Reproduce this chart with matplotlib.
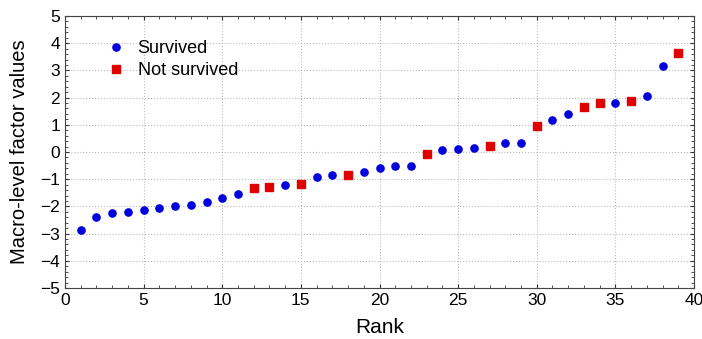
import matplotlib
matplotlib.use("Agg")
import matplotlib.pyplot as plt
from matplotlib.ticker import MultipleLocator

plt.rcParams['font.family'] = ['Liberation Sans', 'DejaVu Sans']

rank = list(range(1, 40))
values = [-2.87, -2.39, -2.26, -2.21, -2.13, -2.05, -1.97, -1.94, -1.85, -1.69,
          -1.56, -1.33, -1.30, -1.23, -1.18, -0.92, -0.85, -0.84, -0.74, -0.58,
          -0.53, -0.50, -0.06, 0.07, 0.11, 0.14, 0.21, 0.34, 0.34, 0.95,
          1.16, 1.39, 1.65, 1.81, 1.80, 1.88, 2.05, 3.15, 3.64]
not_survived_ranks = [12, 13, 15, 18, 23, 27, 30, 33, 34, 36, 39]

surv_x = [r for r in rank if r not in not_survived_ranks]
surv_y = [v for r, v in zip(rank, values) if r not in not_survived_ranks]
ns_x = [r for r in rank if r in not_survived_ranks]
ns_y = [v for r, v in zip(rank, values) if r in not_survived_ranks]

fig = plt.figure(figsize=(7.02, 3.39), dpi=100)
ax = fig.add_axes([65/702, 1-288/339, (694-65)/702, (288-16)/339])

ax.plot(surv_x, surv_y, 'o', color='#0000dd', markersize=5.2, label='Survived', zorder=3)
ax.plot(ns_x, ns_y, 's', color='#e00000', markersize=5.6, label='Not survived', zorder=3)

ax.set_xlim(0, 40)
ax.set_ylim(-5, 5)
ax.xaxis.set_major_locator(MultipleLocator(5))
ax.xaxis.set_minor_locator(MultipleLocator(1))
ax.yaxis.set_major_locator(MultipleLocator(1))
ax.yaxis.set_minor_locator(MultipleLocator(0.2))
ax.tick_params(which='both', direction='in', top=True, right=True, labelsize=12.5, color='#333333')
ax.tick_params(which='major', length=3)
ax.tick_params(which='minor', length=2)
ax.grid(True, which='major', linestyle=':', color='#bbbbbb', linewidth=0.8)
for s in ax.spines.values():
    s.set_color('#444444')

ax.set_xlabel('Rank', fontsize=15, labelpad=7)
ax.set_ylabel('Macro-level factor values', fontsize=14.5, labelpad=8)

leg = ax.legend(loc='upper left', bbox_to_anchor=(0.038, 0.97), frameon=False, fontsize=13,
                handletextpad=0.6, labelspacing=0.25, handlelength=1.2)

fig.savefig('out.png', dpi=100)
